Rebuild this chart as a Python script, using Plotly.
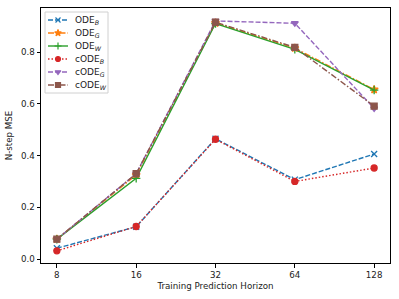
import plotly.graph_objects as go

horizons = ["8", "16", "32", "64", "128"]
ode_b = [0.042, 0.125, 0.465, 0.307, 0.406]
ode_g = [0.077, 0.325, 0.912, 0.815, 0.655]
ode_w = [0.077, 0.312, 0.910, 0.810, 0.653]
code_b = [0.032, 0.126, 0.463, 0.300, 0.352]
code_g = [0.077, 0.330, 0.920, 0.911, 0.582]
code_w = [0.077, 0.330, 0.915, 0.818, 0.591]

DASH = "5px,2px"
DASHDOT = "6px,2px,1.5px,2px"
DOT = "1.5px,2px"

series = [
    ("ODE<sub><i>B</i></sub>", ode_b, "#1f77b4", DASH, "x-thin", 6),
    ("ODE<sub><i>G</i></sub>", ode_g, "#ff7f0e", DASHDOT, "star", 6),
    ("ODE<sub><i>W</i></sub>", ode_w, "#2ca02c", "solid", "cross-thin", 6),
    ("cODE<sub><i>B</i></sub>", code_b, "#d62728", DOT, "circle", 6),
    ("cODE<sub><i>G</i></sub>", code_g, "#9467bd", DASH, "triangle-down", 6),
    ("cODE<sub><i>W</i></sub>", code_w, "#8c564b", DASHDOT, "square", 6),
]

W, H = 399, 299
L, R, T, B = 41, 9, 8, 36
PW, PH = W - L - R, H - T - B
FS = 8.7

fig = go.Figure()
for name, vals, color, dash, sym, size in series:
    fig.add_trace(go.Scatter(
        x=list(range(len(horizons))), y=vals, name=name, mode="lines+markers",
        line=dict(color=color, dash=dash, width=1.4),
        marker=dict(symbol=sym, size=size, color=color,
                    line=dict(color=color, width=1.3)),
        showlegend=False, cliponaxis=False,
    ))

# compact legend box (matplotlib-like), on an overlay axis in plot pixels
fig.add_trace(go.Scatter(
    x=[4, 67, 67, 4, 4], y=[4, 4, 85, 85, 4], xaxis="x2", yaxis="y2",
    mode="lines", fill="toself", fillcolor="rgba(255,255,255,0.8)",
    line=dict(color="#d0d0d0", width=1), showlegend=False, hoverinfo="skip",
))
for i, (name, vals, color, dash, sym, size) in enumerate(series):
    yc = 12 + 13 * i
    fig.add_trace(go.Scatter(
        x=[7, 27], y=[yc, yc], xaxis="x2", yaxis="y2",
        mode="lines", showlegend=False, hoverinfo="skip",
        line=dict(color=color, dash=dash, width=1.4),
    ))
    fig.add_trace(go.Scatter(
        x=[17], y=[yc], xaxis="x2", yaxis="y2",
        mode="markers", showlegend=False, hoverinfo="skip",
        marker=dict(symbol=sym, size=size - 1, color=color,
                    line=dict(color=color, width=1.2)),
    ))
    fig.add_annotation(x=32, y=yc, xref="x2", yref="y2", text=name,
                       showarrow=False, xanchor="left", yanchor="middle",
                       font=dict(size=9, color="#222"))

axis_common = dict(showgrid=False, zeroline=False, showline=True, linecolor="black",
                   linewidth=1, mirror=True, ticks="outside", ticklen=3.5,
                   tickcolor="black", tickfont=dict(size=FS, color="#222"))

fig.update_layout(
    width=W, height=H,
    margin=dict(l=L, r=R, t=T, b=B),
    paper_bgcolor="white", plot_bgcolor="white",
    font=dict(family="DejaVu Sans", size=FS, color="#222"),
    showlegend=False,
    xaxis=dict(range=[-0.2, 4.2], tickmode="array",
               tickvals=list(range(len(horizons))), ticktext=horizons,
               title=dict(text="Training Prediction Horizon",
                          font=dict(size=FS, color="#222"), standoff=3),
               **axis_common),
    yaxis=dict(range=[-0.015, 0.97], tickmode="array",
               tickvals=[0.0, 0.2, 0.4, 0.6, 0.8],
               ticktext=["0.0", "0.2", "0.4", "0.6", "0.8"],
               title=dict(text="N-step MSE", font=dict(size=FS, color="#222"),
                          standoff=6),
               **axis_common),
    xaxis2=dict(overlaying="x", range=[0, PW], visible=False, fixedrange=True),
    yaxis2=dict(overlaying="y", range=[PH, 0], visible=False, fixedrange=True),
)
fig.write_html("out.html", config={"displayModeBar": False},
               post_script="document.body.style.margin='0';")
